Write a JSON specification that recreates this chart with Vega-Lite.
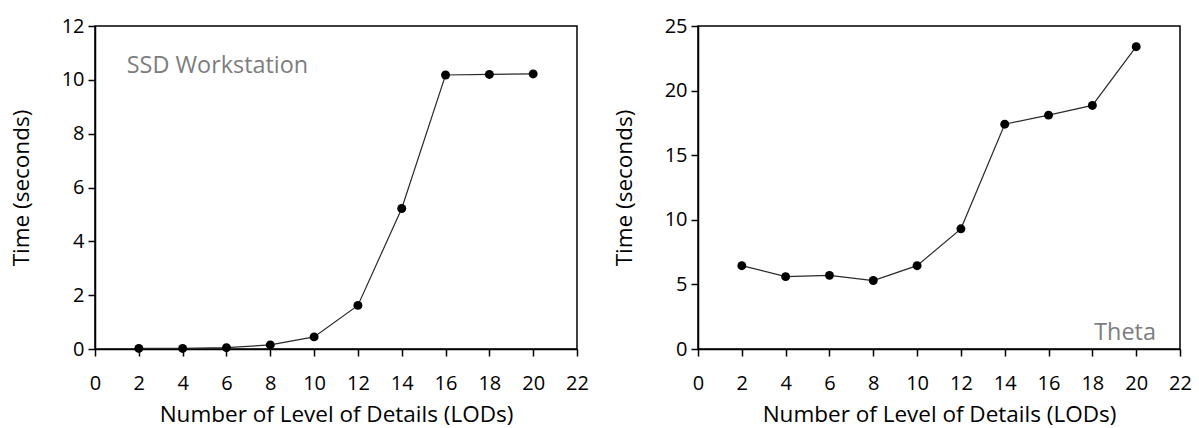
{
  "$schema": "https://vega.github.io/schema/vega-lite/v6.json",
  "padding": {"left": 9, "top": 15, "right": 5, "bottom": 2},
  "background": "white",
  "config": {
    "font": "Open Sans",
    "view": {"stroke": "black", "strokeWidth": 1.5},
    "axis": {
      "grid": false,
      "domainColor": "black",
      "domainWidth": 1.5,
      "tickColor": "black",
      "tickWidth": 1.5,
      "tickSize": 7,
      "labelFont": "Open Sans",
      "labelFontSize": 20,
      "labelColor": "black",
      "titleFont": "Open Sans",
      "titleFontSize": 22.5,
      "titleFontWeight": "normal",
      "titleColor": "black",
      "labelFlush": false,
      "labelOverlap": false
    }
  },
  "datasets": {
    "ssd": [
      {"lods": 2, "time": 0.02},
      {"lods": 4, "time": 0.02},
      {"lods": 6, "time": 0.05},
      {"lods": 8, "time": 0.15},
      {"lods": 10, "time": 0.45},
      {"lods": 12, "time": 1.62},
      {"lods": 14, "time": 5.22},
      {"lods": 16, "time": 10.18},
      {"lods": 18, "time": 10.2},
      {"lods": 20, "time": 10.22}
    ],
    "theta": [
      {"lods": 2, "time": 6.45},
      {"lods": 4, "time": 5.6},
      {"lods": 6, "time": 5.7},
      {"lods": 8, "time": 5.3},
      {"lods": 10, "time": 6.45},
      {"lods": 12, "time": 9.3},
      {"lods": 14, "time": 17.4},
      {"lods": 16, "time": 18.1},
      {"lods": 18, "time": 18.85},
      {"lods": 20, "time": 23.4}
    ],
    "ssdLabel": [{"lods": 1.45, "time": 10.5, "label": "SSD Workstation"}],
    "thetaLabel": [{"lods": 20.9, "time": 1.2, "label": "Theta"}]
  },
  "bounds": "flush",
  "spacing": 121,
  "hconcat": [
    {
      "width": 482,
      "height": 323,
      "layer": [
        {
          "data": {"name": "ssd"},
          "mark": {"type": "line", "color": "#2a2a2a", "strokeWidth": 1.2},
          "encoding": {
            "x": {"field": "lods", "type": "quantitative", "scale": {"domain": [0, 22], "nice": false},
                  "axis": {"values": [0,2,4,6,8,10,12,14,16,18,20,22], "title": "Number of Level of Details (LODs)", "labelPadding": 17, "titlePadding": 10}},
            "y": {"field": "time", "type": "quantitative", "scale": {"domain": [0, 12], "nice": false},
                  "axis": {"values": [0,2,4,6,8,10,12], "title": "Time (seconds)", "labelPadding": 4, "titlePadding": 28}}
          }
        },
        {
          "data": {"name": "ssd"},
          "mark": {"type": "point", "filled": true, "color": "black", "size": 80, "opacity": 1},
          "encoding": {
            "x": {"field": "lods", "type": "quantitative"},
            "y": {"field": "time", "type": "quantitative"}
          }
        },
        {
          "data": {"name": "ssdLabel"},
          "mark": {"type": "text", "align": "left", "baseline": "middle", "fontSize": 23.4, "fontWeight": "normal", "color": "#7d7d7d"},
          "encoding": {
            "x": {"field": "lods", "type": "quantitative"},
            "y": {"field": "time", "type": "quantitative"},
            "text": {"field": "label"}
          }
        }
      ]
    },
    {
      "width": 482,
      "height": 323,
      "layer": [
        {
          "data": {"name": "theta"},
          "mark": {"type": "line", "color": "#2a2a2a", "strokeWidth": 1.2},
          "encoding": {
            "x": {"field": "lods", "type": "quantitative", "scale": {"domain": [0, 22], "nice": false},
                  "axis": {"values": [0,2,4,6,8,10,12,14,16,18,20,22], "title": "Number of Level of Details (LODs)", "labelPadding": 17, "titlePadding": 10}},
            "y": {"field": "time", "type": "quantitative", "scale": {"domain": [0, 25], "nice": false},
                  "axis": {"values": [0,5,10,15,20,25], "title": "Time (seconds)", "labelPadding": 4, "titlePadding": 28}}
          }
        },
        {
          "data": {"name": "theta"},
          "mark": {"type": "point", "filled": true, "color": "black", "size": 80, "opacity": 1},
          "encoding": {
            "x": {"field": "lods", "type": "quantitative"},
            "y": {"field": "time", "type": "quantitative"}
          }
        },
        {
          "data": {"name": "thetaLabel"},
          "mark": {"type": "text", "align": "right", "baseline": "middle", "fontSize": 23.4, "fontWeight": "normal", "color": "#7d7d7d"},
          "encoding": {
            "x": {"field": "lods", "type": "quantitative"},
            "y": {"field": "time", "type": "quantitative"},
            "text": {"field": "label"}
          }
        }
      ]
    }
  ]
}
